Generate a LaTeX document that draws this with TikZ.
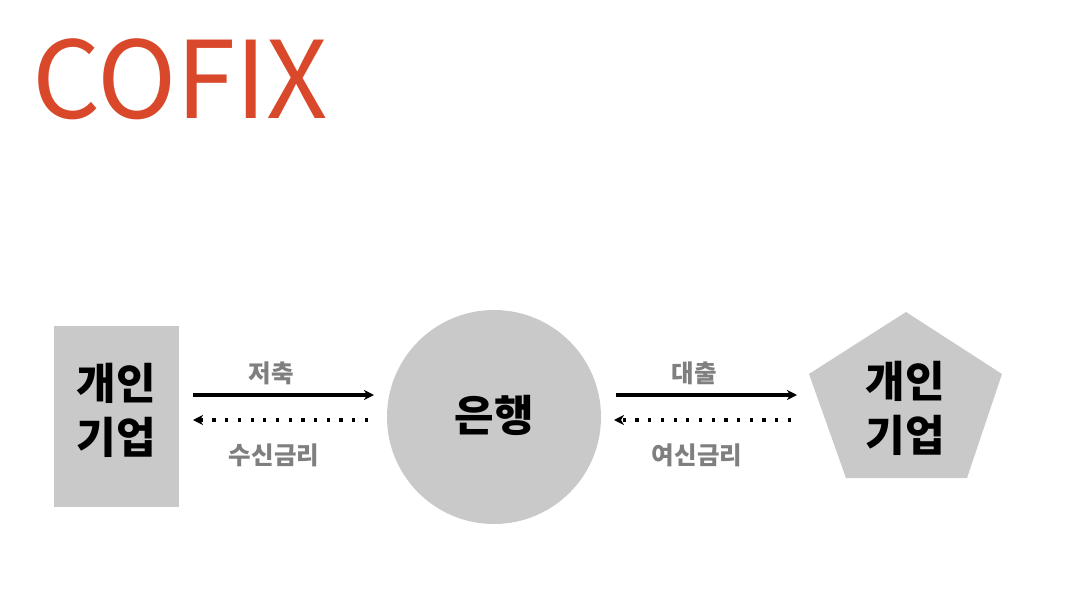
\documentclass[tikz,border=0pt]{standalone}
\usepackage{fontspec}
\setmainfont{Noto Sans CJK KR}
\usetikzlibrary{arrows.meta}
\definecolor{titlered}{HTML}{D9482A}
\definecolor{shapegray}{HTML}{C9C9C9}
\definecolor{labelgray}{HTML}{7F7F7F}
\tikzset{
  shapefill/.style={fill=shapegray, draw=none},
  bigtext/.style={font=\fontsize{43}{50}\selectfont\bfseries, align=center, text=black},
  lbl/.style={font=\fontsize{24.5}{28}\selectfont\bfseries, text=labelgray},
  solidarrow/.style={line width=3.2pt, -{Stealth[length=10pt,width=10pt,inset=3pt]}},
  dotarrow/.style={line width=3.2pt, dash pattern=on 3.2pt off 9.5pt, -{Stealth[length=10pt,width=10pt,inset=3pt]}},
}
\begin{document}
\begin{tikzpicture}[x=1pt,y=-1pt]
\useasboundingbox (0,0) rectangle (1080,592);
\fill[white] (0,0) rectangle (1080,592);
% title
\node[anchor=base west, inner sep=0pt, text=titlered, font=\fontsize{107}{120}\selectfont] (title) at (32,118) {COFIX};
% left rectangle
\fill[shapefill] (54,326) rectangle (179,507);
\node[bigtext, inner sep=0pt] (left) at (116.5,410) {개인\\[4pt]기업};
% circle
\node[shapefill, circle, minimum size=214pt, inner sep=0pt] (bank) at (494,417) {};
\node[bigtext, inner sep=0pt] (banktext) at (494,415) {은행};
% pentagon
\fill[shapefill] (906,312) -- (1002,374) -- (967,478) -- (846,478) -- (809,374) -- cycle;
\node[bigtext, inner sep=0pt] (right) at (905,408) {개인\\[4pt]기업};
% connector endpoints
\coordinate (a1s) at (193,395);
\coordinate (a1e) at (374,395);
\coordinate (a2s) at (368,420);
\coordinate (a2e) at (193,420);
\coordinate (b1s) at (616,395);
\coordinate (b1e) at (797,395);
\coordinate (b2s) at (791,420);
\coordinate (b2e) at (614,420);
\draw[solidarrow] (a1s) -- (a1e);
\draw[dotarrow] (a2s) -- (a2e);
\draw[solidarrow] (b1s) -- (b1e);
\draw[dotarrow] (b2s) -- (b2e);
% labels
\node[lbl] (l1) at (271,373) {저축};
\node[lbl] (l2) at (274,455) {수신금리};
\node[lbl] (l3) at (694,373) {대출};
\node[lbl] (l4) at (697,455) {여신금리};
\end{tikzpicture}
\end{document}
